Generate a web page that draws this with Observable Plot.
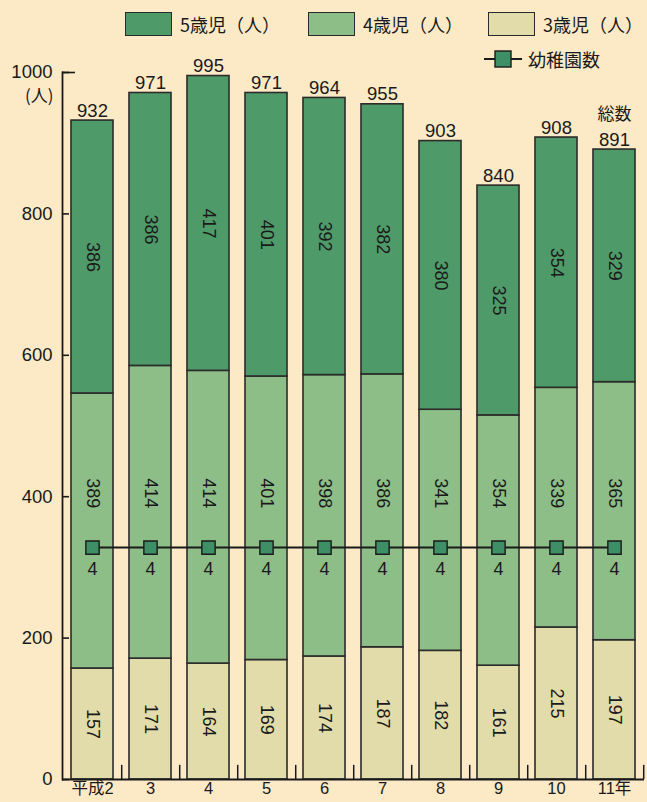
<!DOCTYPE html>
<html><head><meta charset="utf-8">
<script src="https://cdn.jsdelivr.net/npm/d3@7"></script>
<script src="https://cdn.jsdelivr.net/npm/@observablehq/plot@0.6"></script>
<style>
html,body{margin:0;padding:0;background:#fce9c6;}
#wrap{position:relative;width:647px;height:802px;font-family:"Liberation Sans","Noto Sans CJK JP",sans-serif;}
.lg{position:absolute;display:flex;align-items:center;font-size:18px;color:#1a1a1a;font-family:"Noto Sans CJK JP","Liberation Sans",sans-serif;}
.sw{width:47px;height:24px;border:1.5px solid #2a2a2a;margin-right:8px;box-sizing:border-box;}
</style></head>
<body><div id="wrap"></div>
<script>
const years = ["平成2","3","4","5","6","7","8","9","10","11年"];
const age3 = [157,171,164,169,174,187,182,161,215,197];
const age4 = [389,414,414,401,398,386,341,354,339,365];
const age5 = [386,386,417,401,392,382,380,325,354,329];
const totals = [932,971,995,971,964,955,903,840,908,891];
const kindergartens = [4,4,4,4,4,4,4,4,4,4];
const seriesNames = ["3歳児（人）","4歳児（人）","5歳児（人）"];
const colors = ["#e1dcaa","#8dbe88","#4f9a69"];
const markerColor = "#3f8f66";
const yTicks = [0,200,400,600,800,1000];
const peoplePerKindergarten = 82; // secondary scale: 幼稚園数 → drawn on people axis
const age4LabelY = 405;

const W = 647, H = 802, ML = 62, MR = 3, MT = 72, MB = 23;
const padInner = 0.28, padOuter = 0.12;
const step = (W - ML - MR) / (years.length - padInner + 2 * padOuter);

const rows = [];
years.forEach((yr, i) => {
  const vals = [age3[i], age4[i], age5[i]];
  let base = 0;
  vals.forEach((v, s) => {
    const mid = base + v / 2;
    rows.push({year: yr, series: seriesNames[s], value: v, y1: base, y2: base + v,
      labelY: s === 1 ? age4LabelY : mid});
    base += v;
  });
});
const totalRows = years.map((yr, i) => ({year: yr, total: totals[i]}));
const kRows = years.map((yr, i) => ({year: yr, count: kindergartens[i]}));

const font = `"Liberation Sans","Noto Sans CJK JP",sans-serif`;
const cjk = `"Noto Sans CJK JP",sans-serif`;
const chart = Plot.plot({
  width: W, height: H,
  marginLeft: ML, marginRight: MR, marginTop: MT, marginBottom: MB,
  style: {background: "transparent", fontFamily: font, color: "#1a1a1a"},
  x: {domain: years, paddingInner: padInner, paddingOuter: padOuter, label: null},
  y: {domain: [0, 1000], label: null},
  color: {domain: seriesNames, range: colors},
  marks: [
    Plot.barY(rows, {x: "year", y1: "y1", y2: "y2", fill: "series", stroke: "#2b2b2b", strokeWidth: 1.6}),
    Plot.text(rows, {x: "year", y: "labelY", text: "value", rotate: 90, fontSize: 18, fill: "#1a1a1a"}),
    Plot.text(totalRows, {x: "year", y: "total", text: "total", dy: -4, lineAnchor: "bottom", fontSize: 18.5, fill: "#1a1a1a"}),
    Plot.text(totalRows.slice(-1), {x: "year", y: "total", text: () => "総数", dy: -30, lineAnchor: "bottom", fontSize: 17, fill: "#1a1a1a", fontFamily: cjk}),
    Plot.line(kRows, {x: "year", y: d => d.count * peoplePerKindergarten, stroke: "#1a1a1a", strokeWidth: 2}),
    Plot.dot(kRows, {x: "year", y: d => d.count * peoplePerKindergarten, symbol: "square", r: 7.5, fill: markerColor, stroke: "#1a1a1a", strokeWidth: 1.4}),
    Plot.text(kRows, {x: "year", y: d => d.count * peoplePerKindergarten, text: "count", dy: 22, fontSize: 18, fill: "#1a1a1a"}),
    Plot.ruleX(years, {x: d => d, dx: step / 2, y1: 0, y2: 20, stroke: "#1a1a1a", strokeWidth: 1.5}),
    Plot.ruleY([0], {stroke: "#1a1a1a", strokeWidth: 1.8}),
    Plot.frame({anchor: "left", stroke: "#1a1a1a", strokeWidth: 1.8}),
    Plot.axisY({ticks: yTicks, tickSize: -7, tickPadding: 17, tickFormat: d3.format("d"), fontSize: 18.5, strokeWidth: 1.6, label: null}),
    Plot.axisY({ticks: [1000], tickSize: -13, tickFormat: () => "", strokeWidth: 1.6, label: null}),
    Plot.axisY({ticks: [1000], tickSize: 0, tickPadding: 9, dy: 24, tickFormat: () => "(人)", fontSize: 17, label: null, fontFamily: cjk}),
    Plot.axisX({tickSize: 0, tickPadding: 3, fontSize: 16.5, label: null, fontFamily: font})
  ]
});
const wrap = document.getElementById("wrap");
wrap.appendChild(chart);
chart.style.position = "absolute"; chart.style.left = "0"; chart.style.top = "0";

// legend (HTML, above the plot area)
const legendItems = [
  {label: seriesNames[2], color: colors[2], left: 125, top: 11},
  {label: seriesNames[1], color: colors[1], left: 308, top: 11},
  {label: seriesNames[0], color: colors[0], left: 488, top: 11}
];
legendItems.forEach(it => {
  const d = document.createElement("div");
  d.className = "lg";
  d.style.left = it.left + "px"; d.style.top = it.top + "px";
  d.innerHTML = `<div class="sw" style="background:${it.color}"></div><span>${it.label}</span>`;
  wrap.appendChild(d);
});
const lk = document.createElement("div");
lk.className = "lg"; lk.style.left = "484px"; lk.style.top = "46px";
lk.innerHTML = `<svg width="38" height="26"><line x1="0" y1="13" x2="38" y2="13" stroke="#1a1a1a" stroke-width="2"/><rect x="11" y="5" width="16" height="16" fill="${markerColor}" stroke="#1a1a1a" stroke-width="1.4"/></svg><span style="margin-left:6px">幼稚園数</span>`;
wrap.appendChild(lk);
</script></body></html>
